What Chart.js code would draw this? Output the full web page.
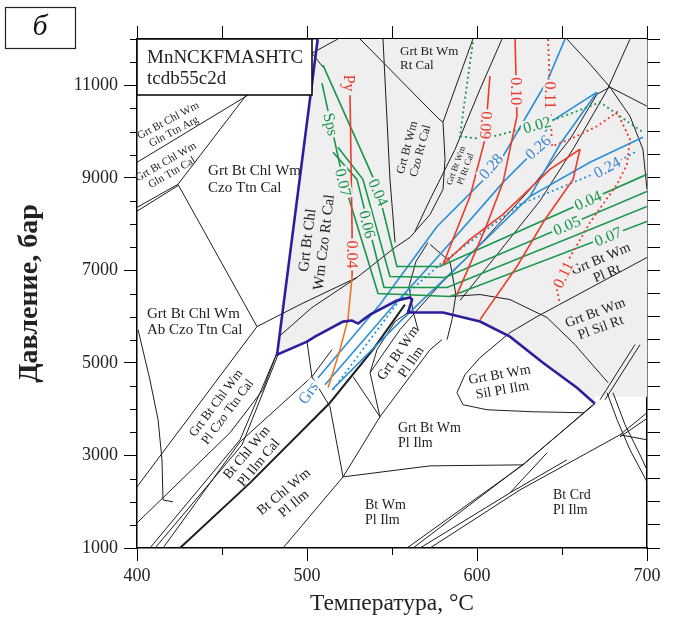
<!DOCTYPE html>
<html>
<head>
<meta charset="utf-8">
<script src="https://cdn.jsdelivr.net/npm/chart.js@4.4.1/dist/chart.umd.min.js"></script>
<style>
  html, body { margin: 0; padding: 0; background: #fff; }
  canvas { display: block; }
</style>
</head>
<body>
<canvas id="pt" width="684" height="621"></canvas>
<script>
// axis tick labels
const tempLabels = [400, 500, 600, 700];
const presLabels = [1000, 3000, 5000, 7000, 9000, 11000];

// melt-in boundary (thick blue), [T, P]
const solidus = [[506.3,12000],[482.4,5178],[500,5460],[504.7,5568],[521.2,5893],[526.5,5915],[530,5850],
  [537.1,6044],[552.9,6348],[560.6,6413],[561.8,6369],[559.4,6088],[562.4,6088],[580,6088],[601.8,5893],
  [619.4,5568],[638.8,5005],[658.8,4464],[669.4,4118]];
const greyCorner = [[669.4,4270],[700,4270],[700,12000]];

// phase boundaries (black)
const lnArgTop = [[400,9335],[465.3,10786]];
const lnGlnLow1 = [[400,8361],[424.1,8859]];
const lnGlnLow2 = [[400,8280],[424.1,8830]];
const lnGlnCal = [[424.1,8859],[464.7,10807]];
const lnCzoTtn = [[424.1,8859],[470.6,5785]];
const lnCzoRt = [[470.6,5785],[495.9,6261],[529.4,6846],[551.8,7496],[560.6,7712]];
const lnAbCurve = [[400.6,5720],[407.6,4637],[412.4,3771],[414.7,2905],[415.3,2039],[421.2,1996]];
const lnPlCzoTop = [[400,2321],[470.6,5785]];
const lnPlCzoA = [[400,1541],[454.7,3490],[474.1,4421],[482.4,5222]];
const lnPlCzoB = [[407.6,1000],[460.6,3338],[482.4,5222]];
const lnPlCzoC = [[410.6,1000],[461.8,3230],[483,5180]];
const lnIlmCal = [[415.3,1000],[460.6,3295],[502.9,4702],[514.7,5287]];
const lnIlmCalThick = [[425.3,1000],[466.5,2407],[513.5,4139],[538.8,5287],[557.6,6261]];
const lnBtWmLeft = [[485.9,1000],[521.2,2537]];
const lnBtWmTop = [[521.2,2537],[572.4,2775],[627.1,2797]];
const lnGrtIlm = [[521.2,2537],[542.9,3836],[572.4,5287],[579.4,5503]];
const lnGrsArc = [[502.9,4702],[513.5,4053],[521.2,2537]];
const lnGrsShort = [[500,5460],[502.9,4702]];
const lnNotch = [[483.5,5568],[502.9,6196],[529.4,6846]];
const lnWedgeA = [[527.1,4702],[542.9,3836]];
const lnWedgeB = [[542.9,3836],[537.1,4789],[541.2,5287],[551.8,5893],[559.4,6088]];
const lnVert = [[544.7,12000],[548.8,8967],[551.8,7603]];
const lnRtCal = [[531.2,12000],[577.1,10288],[580,10203]];
const lnPlRtCalL = [[597.6,12000],[580,10203],[581.2,9400],[580,8751],[572.4,8209],[560.6,7712]];
const lnPlRtCalR = [[614.7,12000],[601.8,10916],[587.1,9617],[572.4,8534],[563.5,7841]];
const lnBoxA = [[502.9,11695],[518.2,12000]];
const lnBoxB = [[502.9,11695],[509.4,11392]];
const lnArcTop = [[652.9,12000],[666.5,11457],[678.2,10959],[690,10331],[697.6,9617],[700,8750]];
const lnArcCross = [[678.2,10959],[700,10548]];
const lnDiagA = [[678.2,10959],[670.6,10807],[654.7,9833],[631.2,8751],[601.8,7560],[578.2,6694],[554.7,5720],[537.1,4789]];
const lnDiagB = [[690,12000],[676.5,10894],[657,9650],[637,8500],[612,7350],[590,6350]];
const lnCrd1 = [[558.8,1000],[627.1,2797],[668.2,4096]];
const lnCrd2 = [[562.4,1000],[628.2,2840],[669.4,4118]];
const lnCrd3 = [[566.5,1000],[619.4,2191],[641.2,3057]];
const lnCrd4 = [[572.4,1000],[625.3,2256],[684.1,3446]];
const lnCrd5 = [[619.4,2191],[652.9,2905]];
const lnCrd6 = [[684.1,3446],[700,3923]];
const lnCrd7 = [[684.1,3446],[700,3338]];
const lnCrd8 = [[684.1,3400],[700,3800]];
const lnArcR1 = [[676.5,4356],[682.4,3771],[690,3122],[700,2429]];
const lnArcR2 = [[680,4356],[687.1,3663],[695.9,3013],[700,2689]];
const lnRtUp1 = [[672.4,4204],[692.9,5395]];
const lnRtUp2 = [[675.3,4204],[695.9,5395]];
const lnSilLoop = [[662.4,3923],[632.9,3944],[605.9,3988],[591.8,4096],[588.2,4356],[592.9,4745],[601.8,5114],[619.4,5655],[635.3,6001]];
const lnPlRt = [[635.3,6001],[700,7279]];
const lnPlSil = [[582.9,6434],[601.8,6477],[619.4,6369],[641.2,5980],[657.6,5395],[677.1,4572]];
const lnArcL = [[571.2,7603],[564.1,7192],[560,6651],[562.4,6109],[565.3,5720]];
const lnArcR = [[572.4,7560],[584.1,7192],[587.6,6477],[585.3,5936],[582.4,5503]];

// grossular isopleths (blue)
const grs28 = [[506.5,4681],[542.9,6261],[576.5,7950],[611.8,9249],[621.2,9833],[641.8,11132],[651.8,12000]];
const grs26 = [[510.6,4529],[548.8,6153],[578.2,7343],[615.3,8902],[635.9,9660],[642.9,10201],[670.6,10851]];
const grsLens = [[670.6,10851],[648.8,9725],[631.2,8599],[666.5,9335],[697.6,9877]];
const grsLow = [[514.7,4421],[554.7,5893],[595.9,7343],[631.2,8599]];
const grs24 = [[515.3,4421],[537.1,5503],[554.7,6369],[578.2,7127],[625.3,8426],[672.4,9140],[692.9,9552]];

// spessartine isopleths (green)
const sps04 = [[509.4,11435],[541.2,8816],[552.9,7084],[578.2,7084],[700,9075]];
const sps05 = [[518.2,9660],[532.9,8967],[548.8,6867],[581.2,6846],[700,8707]];
const sps06 = [[515.3,9552],[529.4,8967],[545.3,6629],[582.4,6629],[700,8383]];
const sps07 = [[508.8,11046],[521.2,8967],[541.8,6499],[584.1,6434],[700,8058]];
const sps02 = [[597.6,11933],[592.9,10699],[590,9898],[603.5,9833],[625.3,10050],[642.9,10223],[658.8,10439],
  [672.4,10634],[684.1,10331],[697.6,9985]];

// pyrope isopleths (red)
const pyTop = [[525.3,10786],[526.5,7885],[526.5,6867]];
const pyLow = [[526.5,6867],[524.1,5936],[519.4,5287],[512.4,4464]];
const py09 = [[607.6,11197],[604.7,9833],[595.9,8599],[580,7127]];
const py10 = [[622.4,12000],[623.5,10331],[615.3,8902],[604.7,7885],[588.2,6477]];
const pyLensA = [[580,7127],[595.9,7668],[615.3,8209],[642.9,9184],[660.6,9617]];
const pyLensB = [[660.6,9617],[656.5,8967],[640,8101],[623.5,7084],[601.8,5936]];
const py11 = [[641.8,12000],[644.1,9682],[654.7,9833],[670.6,10115],[682.4,10418],[690,9833],[688.2,9292],
  [682.4,8859],[666.5,8036],[652.9,7170],[647.1,6586],[648.8,6261]];

const SERIF = '"Liberation Serif", "Times New Roman", serif';
const INK = '#1e1e1e';
const GREEN = '#17964a';
const BLUE = '#2a8fd6';
const BLUE_TXT = '#3a84d4';
const RED = '#ec3b2b';
const ORANGE = '#f0741e';
const GREY = '#efefef';

// text inside the fields
const fieldLabels = [
  {t: 554.7, p: 11576, lines: ['Grt Bt Wm', 'Rt Cal'], align: 'left', size: 13},
  {t: 441.8, p: 8956, lines: ['Grt Bt Chl Wm', 'Czo Ttn Cal'], align: 'left', size: 15},
  {t: 405.9, p: 5882, lines: ['Grt Bt Chl Wm', 'Ab Czo Ttn Cal'], align: 'left', size: 15},
  {t: 420, p: 10115, lines: ['Grt Bt Chl Wm', 'Gln Ttn Arg'], rot: -28, size: 11},
  {t: 418.8, p: 9227, lines: ['Grt Bt Chl Wm', 'Gln Ttn Cal'], rot: -30, size: 11},
  {t: 505.3, p: 7625, lines: ['Grt Bt Chl', 'Wm Czo Rt Cal'], rot: -83, size: 15},
  {t: 562.9, p: 9617, lines: ['Grt Bt Wm', 'Czo Rt Cal'], rot: -75, size: 12},
  {t: 590.6, p: 9227, lines: ['Grt Bt Wm', 'Pl Rt Cal'], rot: -70, size: 9},
  {t: 674.7, p: 7084, lines: ['Grt Bt Wm', 'Pl Rt'], rot: -23, size: 14},
  {t: 671.2, p: 5915, lines: ['Grt Bt Wm', 'Pl Sil Rt'], rot: -20, size: 14},
  {t: 614.1, p: 4572, lines: ['Grt Bt Wm', 'Sil Pl Ilm'], rot: -10, size: 14},
  {t: 557.6, p: 5114, lines: ['Grt Bt Wm', 'Pl Ilm'], rot: -55, size: 14},
  {t: 553.5, p: 3425, lines: ['Grt Bt Wm', 'Pl Ilm'], align: 'left', size: 14},
  {t: 534.1, p: 1758, lines: ['Bt Wm', 'Pl Ilm'], align: 'left', size: 14},
  {t: 644.7, p: 1974, lines: ['Bt Crd', 'Pl Ilm'], align: 'left', size: 14},
  {t: 489.4, p: 2083, lines: ['Bt Chl Wm', 'Pl Ilm'], rot: -40, size: 14},
  {t: 468.2, p: 2949, lines: ['Bt Chl Wm', 'Pl Ilm Cal'], rot: -50, size: 14},
  {t: 450, p: 4031, lines: ['Grt Bt Chl Wm', 'Pl Czo Ttn Cal'], rot: -53, size: 13}
];

// isopleth values written on the lines
const isoLabels = [
  {t: 500.6, p: 4356, text: 'Grs', rot: -55, color: BLUE_TXT, bg: '#fff'},
  {t: 524.7, p: 11046, text: 'Py', rot: 90, color: RED},
  {t: 526.5, p: 7343, text: '0.04', rot: 90, color: RED, bg: GREY},
  {t: 514.1, p: 10158, text: 'Sps', rot: 77, color: GREEN, bg: GREY},
  {t: 521.3, p: 8900, text: '0.07', rot: 77, color: GREEN, bg: GREY},
  {t: 542, p: 8686, text: '0.04', rot: 66, color: GREEN, bg: GREY},
  {t: 535.5, p: 7993, text: '0.06', rot: 76, color: GREEN, bg: GREY},
  {t: 665.3, p: 8513, text: '0.04', rot: -24, color: GREEN, bg: GREY},
  {t: 652.9, p: 7971, text: '0.05', rot: -23, color: GREEN, bg: GREY},
  {t: 677.1, p: 7733, text: '0.07', rot: -22, color: GREEN, bg: GREY},
  {t: 635.3, p: 10147, text: '0.02', rot: -15, color: GREEN, bg: GREY},
  {t: 608.2, p: 9249, text: '0.28', rot: -49, color: BLUE_TXT, bg: GREY},
  {t: 635.9, p: 9660, text: '0.26', rot: -42, color: BLUE_TXT, bg: GREY},
  {t: 676.5, p: 9227, text: '0.24', rot: -28, color: BLUE_TXT, bg: GREY},
  {t: 605.3, p: 10136, text: '0.09', rot: 94, color: RED, bg: GREY},
  {t: 623, p: 10872, text: '0.10', rot: 90, color: RED, bg: GREY},
  {t: 643, p: 10786, text: '0.11', rot: 90, color: RED, bg: GREY},
  {t: 650.6, p: 6910, text: '0.11', rot: -64, color: RED, bg: GREY}
];

function pts(a) {
  return a.map(p => ({x: p[0], y: p[1]}));
}
function curve(a, color, width, dash, order) {
  return {
    data: pts(a), borderColor: color, borderWidth: width, borderDash: dash || [],
    pointRadius: 0, fill: false, tension: 0, order: order
  };
}

const boundaries = [lnArgTop, lnGlnLow1, lnGlnLow2, lnGlnCal, lnCzoTtn, lnCzoRt, lnAbCurve, lnPlCzoTop,
  lnPlCzoA, lnPlCzoB, lnPlCzoC, lnIlmCal, lnBtWmLeft, lnBtWmTop, lnGrtIlm, lnGrsArc, lnGrsShort, lnNotch,
  lnWedgeA, lnWedgeB, lnVert, lnRtCal, lnPlRtCalL, lnPlRtCalR, lnBoxA, lnBoxB, lnArcTop, lnArcCross,
  lnDiagA, lnDiagB, lnCrd1, lnCrd2, lnCrd3, lnCrd4, lnCrd5, lnCrd6, lnCrd7, lnCrd8, lnArcR1, lnArcR2,
  lnRtUp1, lnRtUp2, lnSilLoop, lnPlRt, lnPlSil, lnArcL, lnArcR];

const datasets = [];
datasets.push({
  data: pts(solidus.concat(greyCorner)), fill: 'shape', backgroundColor: GREY,
  borderWidth: 0, borderColor: 'rgba(0,0,0,0)', pointRadius: 0, order: 100
});
boundaries.forEach(a => datasets.push(curve(a, INK, 1, null, 50)));
datasets.push(curve(lnIlmCalThick, INK, 2, null, 49));
[grs28, grs26, grsLens, grsLow].forEach(a => datasets.push(curve(a, BLUE, 1.6, null, 30)));
datasets.push(curve(grs24, BLUE, 1.8, [2, 3], 30));
[sps04, sps05, sps06, sps07].forEach(a => datasets.push(curve(a, GREEN, 1.6, null, 25)));
datasets.push(curve(sps02, GREEN, 1.8, [2, 3], 25));
[pyTop, py09, py10, pyLensA, pyLensB].forEach(a => datasets.push(curve(a, RED, 1.6, null, 20)));
datasets.push(curve(pyLow, ORANGE, 1.6, null, 20));
datasets.push(curve(py11, RED, 1.8, [2, 3], 20));
datasets.push(curve(solidus, '#2d1e9e', 2.6, null, 5));

const minorTicks = {
  id: 'minorTicks',
  afterDraw(chart) {
    const {ctx, chartArea: a, scales: {x, y}} = chart;
    ctx.save();
    ctx.strokeStyle = '#000';
    ctx.lineWidth = 1;
    ctx.beginPath();
    for (let t = 450; t < 700; t += 100) {
      const px = Math.round(x.getPixelForValue(t)) + 0.5;
      ctx.moveTo(px, a.bottom); ctx.lineTo(px, a.bottom + 7);
    }
    for (let p = 1500; p <= 12000; p += 500) {
      if (presLabels.includes(p)) continue;
      const py = Math.round(y.getPixelForValue(p)) + 0.5;
      ctx.moveTo(a.left - 7, py); ctx.lineTo(a.left, py);
    }
    ctx.stroke();
    ctx.restore();
  }
};

const annotations = {
  id: 'annotations',
  afterDatasetsDraw(chart) {
    const {ctx, chartArea: a, scales: {x, y}} = chart;
    ctx.save();
    ctx.textBaseline = 'middle';
    fieldLabels.forEach(l => {
      const lh = l.size * 1.12;
      ctx.save();
      ctx.translate(x.getPixelForValue(l.t), y.getPixelForValue(l.p));
      ctx.rotate((l.rot || 0) * Math.PI / 180);
      ctx.font = l.size + 'px ' + SERIF;
      ctx.fillStyle = '#222';
      ctx.textAlign = l.align === 'left' ? 'left' : 'center';
      l.lines.forEach((s, i) => ctx.fillText(s, 0, (i - (l.lines.length - 1) / 2) * lh));
      ctx.restore();
    });
    isoLabels.forEach(l => {
      ctx.save();
      ctx.translate(x.getPixelForValue(l.t), y.getPixelForValue(l.p));
      ctx.rotate(l.rot * Math.PI / 180);
      ctx.font = '16px ' + SERIF;
      ctx.textAlign = 'center';
      if (l.bg) {
        const w = ctx.measureText(l.text).width;
        ctx.fillStyle = l.bg;
        ctx.fillRect(-w / 2 - 2, -7, w + 4, 14);
      }
      ctx.fillStyle = l.color;
      ctx.fillText(l.text, 0, 1);
      ctx.restore();
    });

    // system / database box
    ctx.fillStyle = '#fff';
    ctx.fillRect(a.left, a.top, 175, 56);
    ctx.strokeStyle = '#111';
    ctx.lineWidth = 1.6;
    ctx.strokeRect(a.left, a.top, 175, 56);
    ctx.fillStyle = '#222';
    ctx.textAlign = 'left';
    ctx.font = '19px ' + SERIF;
    ctx.fillText('MnNCKFMASHTC', a.left + 10, a.top + 19);
    ctx.fillText('tcdb55c2d', a.left + 10, a.top + 40);
    ctx.restore();
  },
  afterDraw(chart) {
    const ctx = chart.ctx;
    ctx.save();
    ctx.strokeStyle = '#222';
    ctx.lineWidth = 1.2;
    ctx.strokeRect(5.5, 7.5, 70, 41);
    ctx.fillStyle = '#111';
    ctx.font = 'italic 30px ' + SERIF;
    ctx.textAlign = 'center';
    ctx.textBaseline = 'middle';
    ctx.fillText('б', 40, 27);
    ctx.restore();
  }
};

const axisGrid = {drawOnChartArea: false, tickLength: 13, color: '#000', tickColor: '#000', lineWidth: 1};
const axisBorder = {display: true, color: '#000', width: 1.5};

new Chart(document.getElementById('pt'), {
  type: 'line',
  data: {datasets: datasets},
  options: {
    responsive: false,
    animation: false,
    layout: {padding: 0},
    plugins: {legend: {display: false}, tooltip: {enabled: false}},
    scales: {
      x: {
        type: 'linear', position: 'bottom', min: 400, max: 700,
        afterBuildTicks: s => { s.ticks = tempLabels.map(v => ({value: v})); },
        afterFit: s => { s.height = 73; },
        ticks: {font: {family: SERIF, size: 18}, color: '#222', padding: 4, maxRotation: 0, callback: v => String(v)},
        grid: axisGrid, border: axisBorder,
        title: {display: true, text: 'Температура, °C', font: {family: SERIF, size: 23.5}, color: '#222', padding: {top: 0, bottom: 3}}
      },
      y: {
        type: 'linear', position: 'left', min: 1000, max: 12000,
        afterBuildTicks: s => { s.ticks = presLabels.map(v => ({value: v})); },
        afterFit: s => { s.width = 137; },
        ticks: {font: {family: SERIF, size: 18}, color: '#222', padding: 6, callback: v => String(v)},
        grid: axisGrid, border: axisBorder,
        title: {display: true, text: 'Давление, бар', font: {family: SERIF, size: 28, weight: 'bold'}, color: '#222', padding: {top: 13, bottom: 0}}
      },
      x2: {
        type: 'linear', axis: 'x', position: 'top', min: 400, max: 700,
        afterFit: s => { s.height = 39; },
        ticks: {stepSize: 50, autoSkip: false, callback: () => ''},
        grid: axisGrid, border: axisBorder
      },
      y2: {
        type: 'linear', axis: 'y', position: 'right', min: 1000, max: 12000,
        afterFit: s => { s.width = 37; },
        ticks: {stepSize: 500, autoSkip: false, callback: () => ''},
        grid: axisGrid, border: axisBorder
      }
    }
  },
  plugins: [minorTicks, annotations]
});
</script>
</body>
</html>
